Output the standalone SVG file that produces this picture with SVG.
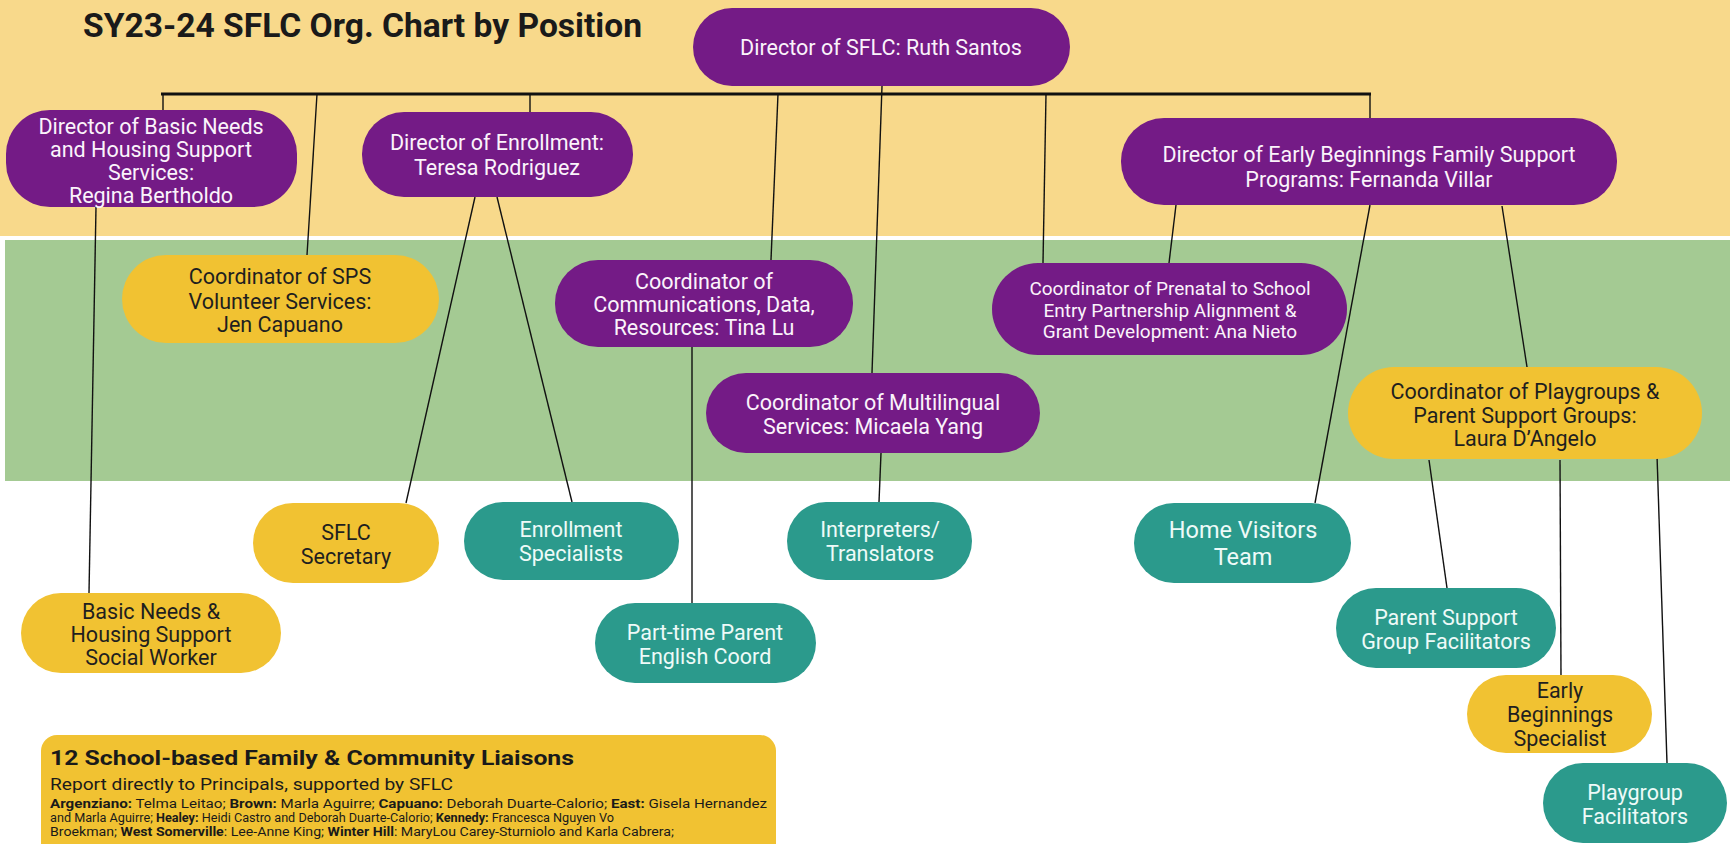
<svg xmlns="http://www.w3.org/2000/svg" width="1730" height="844" viewBox="0 0 1730 844">
<style>
  text { font-family: Roboto, "Liberation Sans", Arial, sans-serif; text-anchor: middle; }
  .purple { fill: #741b86; }
  .yellow { fill: #f1c232; }
  .teal { fill: #2b9a8c; }
  .lt { fill: #fbf3fb; font-size: 21.5px; }
  .tt { fill: #eefaf8; font-size: 21.5px; }
  .dt { fill: #1f1f1f; font-size: 21.5px; }
  .conn line { stroke: #111111; stroke-width: 1.4; }
  .left { text-anchor: start; fill: #1a1a1a; }
  .small { font-size: 12.5px; }
  .b { font-weight: bold; }
</style>
<rect x="0" y="0" width="1730" height="844" fill="#ffffff"/>
<rect id="band-top" x="0" y="0" width="1730" height="236" fill="#f8d98b"/>
<rect id="band-mid" x="5" y="240" width="1725" height="241" fill="#a4ca93"/>

<text id="title" class="left b" x="83" y="37" style="font-size:33px" textLength="559" lengthAdjust="spacingAndGlyphs">SY23-24 SFLC Org. Chart by Position</text>

<g id="connectors" class="conn">
  <line x1="161" y1="94" x2="1371" y2="94" style="stroke-width:3"/>
  <line x1="163" y1="94" x2="163" y2="110"/>
  <line x1="1370" y1="94" x2="1370" y2="118"/>
  <line x1="317" y1="94" x2="307" y2="255"/>
  <line x1="530" y1="94" x2="530" y2="112"/>
  <line x1="778" y1="94" x2="771" y2="260"/>
  <line x1="882" y1="86" x2="872" y2="373"/>
  <line x1="1046" y1="94" x2="1043" y2="263"/>
  <line x1="1269" y1="122" x2="1267" y2="128"/>
  <line x1="96" y1="207" x2="89" y2="593"/>
  <line x1="475" y1="197" x2="406" y2="503"/>
  <line x1="497" y1="197" x2="572" y2="502"/>
  <line x1="692" y1="347" x2="692" y2="603"/>
  <line x1="881" y1="453" x2="879" y2="502"/>
  <line x1="1176" y1="205" x2="1169" y2="263"/>
  <line x1="1370" y1="205" x2="1315" y2="503"/>
  <line x1="1502" y1="206" x2="1527" y2="367"/>
  <line x1="1429" y1="460" x2="1447" y2="588"/>
  <line x1="1560" y1="460" x2="1561" y2="675"/>
  <line x1="1657" y1="455" x2="1667" y2="763"/>
</g>

<g id="n-director-sflc">
  <rect class="purple" x="693" y="8" width="377" height="78" rx="39"/>
  <text class="lt" x="881" y="55">Director of SFLC: Ruth Santos</text>
</g>

<g id="n-dir-basic-needs">
  <rect class="purple" x="6" y="110" width="291" height="97" rx="44"/>
  <text class="lt"><tspan x="151" y="134">Director of Basic Needs</tspan><tspan x="151" y="157">and Housing Support</tspan><tspan x="151" y="180">Services:</tspan><tspan x="151" y="203">Regina Bertholdo</tspan></text>
</g>

<g id="n-dir-enrollment">
  <rect class="purple" x="362" y="112" width="271" height="85" rx="42"/>
  <text class="lt"><tspan x="497" y="150">Director of Enrollment:</tspan><tspan x="497" y="175">Teresa Rodriguez</tspan></text>
</g>

<g id="n-dir-early-beginnings">
  <rect class="purple" x="1121" y="118" width="496" height="87" rx="43"/>
  <text class="lt"><tspan x="1369" y="162">Director of Early Beginnings Family Support</tspan><tspan x="1369" y="187">Programs: Fernanda Villar</tspan></text>
</g>

<g id="n-coord-sps">
  <rect class="yellow" x="122" y="255" width="317" height="88" rx="44"/>
  <text class="dt"><tspan x="280" y="284">Coordinator of SPS</tspan><tspan x="280" y="309">Volunteer Services:</tspan><tspan x="280" y="332">Jen Capuano</tspan></text>
</g>

<g id="n-coord-comm">
  <rect class="purple" x="555" y="260" width="298" height="87" rx="43"/>
  <text class="lt"><tspan x="704" y="289">Coordinator of</tspan><tspan x="704" y="312">Communications, Data,</tspan><tspan x="704" y="335">Resources: Tina Lu</tspan></text>
</g>

<g id="n-coord-multilingual">
  <rect class="purple" x="706" y="373" width="334" height="80" rx="40"/>
  <text class="lt"><tspan x="873" y="410">Coordinator of Multilingual</tspan><tspan x="873" y="434">Services: Micaela Yang</tspan></text>
</g>

<g id="n-coord-prenatal">
  <rect class="purple" x="992" y="263" width="355" height="92" rx="46"/>
  <text class="lt" style="font-size:19px"><tspan x="1170" y="295">Coordinator of Prenatal to School</tspan><tspan x="1170" y="317">Entry Partnership Alignment &amp;</tspan><tspan x="1170" y="338">Grant Development: Ana Nieto</tspan></text>
</g>

<g id="n-coord-playgroups">
  <rect class="yellow" x="1348" y="367" width="354" height="92" rx="46"/>
  <text class="dt"><tspan x="1525" y="399">Coordinator of Playgroups &amp;</tspan><tspan x="1525" y="423">Parent Support Groups:</tspan><tspan x="1525" y="446">Laura D’Angelo</tspan></text>
</g>

<g id="n-social-worker">
  <rect class="yellow" x="21" y="593" width="260" height="80" rx="40"/>
  <text class="dt"><tspan x="151" y="619">Basic Needs &amp;</tspan><tspan x="151" y="642">Housing Support</tspan><tspan x="151" y="665">Social Worker</tspan></text>
</g>

<g id="n-secretary">
  <rect class="yellow" x="253" y="503" width="186" height="80" rx="40"/>
  <text class="dt"><tspan x="346" y="540">SFLC</tspan><tspan x="346" y="564">Secretary</tspan></text>
</g>

<g id="n-enrollment-specialists">
  <rect class="teal" x="464" y="502" width="215" height="78" rx="39"/>
  <text class="tt"><tspan x="571" y="537">Enrollment</tspan><tspan x="571" y="561">Specialists</tspan></text>
</g>

<g id="n-part-time">
  <rect class="teal" x="595" y="603" width="221" height="80" rx="40"/>
  <text class="tt"><tspan x="705" y="640">Part-time Parent</tspan><tspan x="705" y="664">English Coord</tspan></text>
</g>

<g id="n-interpreters">
  <rect class="teal" x="787" y="502" width="185" height="78" rx="39"/>
  <text class="tt"><tspan x="880" y="537">Interpreters/</tspan><tspan x="880" y="561">Translators</tspan></text>
</g>

<g id="n-home-visitors">
  <rect class="teal" x="1134" y="503" width="217" height="80" rx="40"/>
  <text class="tt" style="font-size:23.5px"><tspan x="1243" y="538">Home Visitors</tspan><tspan x="1243" y="565">Team</tspan></text>
</g>

<g id="n-parent-support">
  <rect class="teal" x="1336" y="588" width="220" height="80" rx="40"/>
  <text class="tt"><tspan x="1446" y="625">Parent Support</tspan><tspan x="1446" y="649">Group Facilitators</tspan></text>
</g>

<g id="n-eb-specialist">
  <rect class="yellow" x="1467" y="675" width="185" height="78" rx="39"/>
  <text class="dt"><tspan x="1560" y="698">Early</tspan><tspan x="1560" y="722">Beginnings</tspan><tspan x="1560" y="746">Specialist</tspan></text>
</g>

<g id="n-playgroup-facilitators">
  <rect class="teal" x="1543" y="763" width="184" height="80" rx="40"/>
  <text class="tt"><tspan x="1635" y="800">Playgroup</tspan><tspan x="1635" y="824">Facilitators</tspan></text>
</g>

<g id="n-liaisons">
  <rect class="yellow" x="41" y="735" width="735" height="130" rx="16"/>
  <text class="left b" x="50" y="765" style="font-size:21px" textLength="524" lengthAdjust="spacingAndGlyphs">12 School-based Family &amp; Community Liaisons</text>
  <text class="left" x="50" y="790" style="font-size:17px" textLength="403" lengthAdjust="spacingAndGlyphs">Report directly to Principals, supported by SFLC</text>
  <text class="left small" x="50" y="808" textLength="717" lengthAdjust="spacingAndGlyphs"><tspan class="b">Argenziano:</tspan> Telma Leitao; <tspan class="b">Brown:</tspan> Marla Aguirre; <tspan class="b">Capuano:</tspan> Deborah Duarte-Calorio; <tspan class="b">East:</tspan> Gisela Hernandez</text>
  <text class="left small" x="50" y="822" textLength="564" lengthAdjust="spacingAndGlyphs">and Marla Aguirre; <tspan class="b">Healey:</tspan> Heidi Castro and Deborah Duarte-Calorio; <tspan class="b">Kennedy:</tspan> Francesca Nguyen Vo</text>
  <text class="left small" x="50" y="836" textLength="624" lengthAdjust="spacingAndGlyphs">Broekman; <tspan class="b">West Somerville</tspan>: Lee-Anne King; <tspan class="b">Winter Hill</tspan>: MaryLou Carey-Sturniolo and Karla Cabrera;</text>
</g>
</svg>
